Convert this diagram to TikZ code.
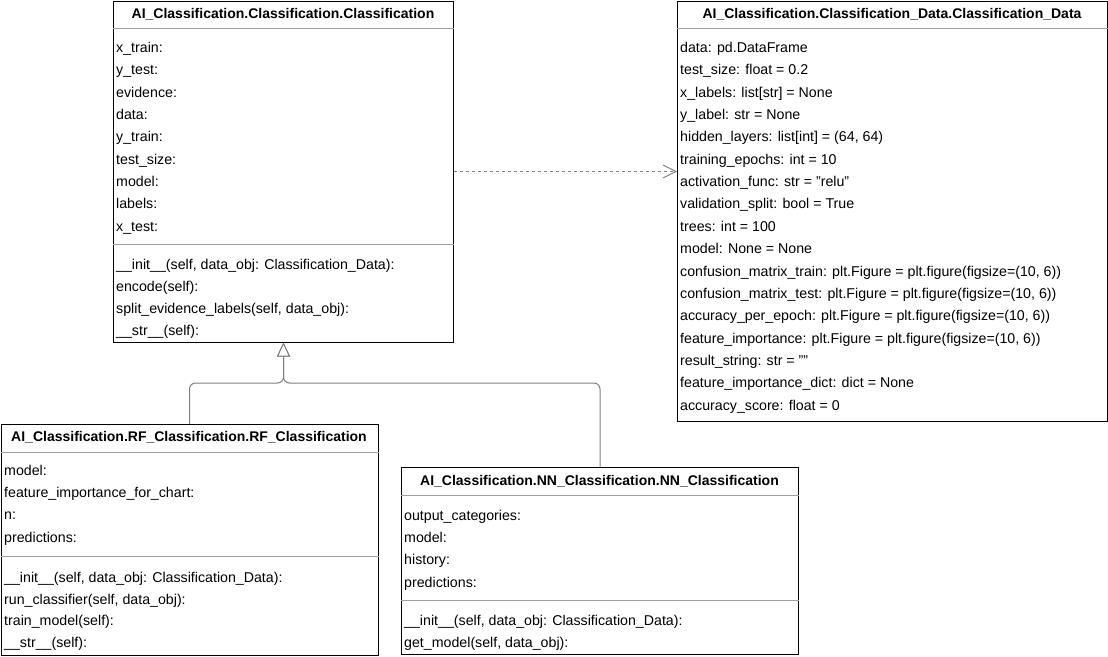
\documentclass[tikz,border=0pt]{standalone}
\usepackage{fontspec}
\setmainfont[Ligatures=NoCommon]{Liberation Sans}
\usetikzlibrary{arrows.meta}
\definecolor{sepgray}{HTML}{A0A0A0}
\definecolor{linegray}{HTML}{808080}
\newcommand{\dq}{\char34\relax}
\tikzset{
  umlbox/.style={draw=black, line width=1pt, rectangle, anchor=north west, inner sep=0pt, fill=white},
  row/.style={anchor=base west, inner sep=0pt, font=\fontsize{14.2}{16}\selectfont, text=black, yshift=-5.3pt},
  head/.style={anchor=base, inner sep=0pt, font=\fontsize{14}{16}\selectfont\bfseries, text=black, yshift=-5pt},
  sepline/.style={draw=sepgray, line width=1pt},
  conn/.style={draw=linegray, line width=1pt},
}
\begin{document}
\begin{tikzpicture}[x=1pt,y=-1pt]
\useasboundingbox (0,0) rectangle (1108,656);

% Classification
\node[umlbox, minimum width=340pt, minimum height=341pt] (cls) at (113,0.5) {};
\node[head] (clsh) at (283,13.5) {AI\_Classification.Classification.Classification};
\draw[sepline] (cls.west |- 0,28) coordinate (clsha) -- (cls.east |- 0,28) coordinate (clshb);
\foreach \t [count=\i] in {x\_train:, y\_test:, evidence:, data:, y\_train:, test\_size:, model:, labels:, x\_test:}
  \node[row] (clsa\i) at (116, {47+22.375*(\i-1)}) {\t};
\draw[sepline] (cls.west |- 0,244) coordinate (clssa) -- (cls.east |- 0,244) coordinate (clssb);
\foreach \t [count=\i] in {{\_\_init\_\_(self, data\_obj: Classification\_Data):}, {encode(self):}, {split\_evidence\_labels(self, data\_obj):}, {\_\_str\_\_(self):}}
  \node[row] (clsm\i) at (116, {264+22*(\i-1)}) {\t};

% Classification_Data
\node[umlbox, minimum width=430pt, minimum height=420pt] (data) at (677,1) {};
\node[head] (datah) at (892,13.5) {AI\_Classification.Classification\_Data.Classification\_Data};
\draw[sepline] (data.west |- 0,28) coordinate (dataha) -- (data.east |- 0,28) coordinate (datahb);
\foreach \t [count=\i] in {{data: pd.DataFrame}, {test\_size: float = 0.2}, {x\_labels: list[str] = None}, {y\_label: str = None}, {hidden\_layers: list[int] = (64, 64)}, {training\_epochs: int = 10}, {activation\_func: str = \dq relu\dq}, {validation\_split: bool = True}, {trees: int = 100}, {model: None = None}, {confusion\_matrix\_train: plt.Figure = plt.figure(figsize=(10, 6))}, {confusion\_matrix\_test: plt.Figure = plt.figure(figsize=(10, 6))}, {accuracy\_per\_epoch: plt.Figure = plt.figure(figsize=(10, 6))}, {feature\_importance: plt.Figure = plt.figure(figsize=(10, 6))}, {result\_string: str = \dq\dq}, {feature\_importance\_dict: dict = None}, {accuracy\_score: float = 0}}
  \node[row] (dataa\i) at (680, {47+22.375*(\i-1)}) {\t};

% RF_Classification
\node[umlbox, minimum width=377pt, minimum height=231pt] (rf) at (0.5,424) {};
\node[head] (rfh) at (189,436.5) {AI\_Classification.RF\_Classification.RF\_Classification};
\draw[sepline] (rf.west |- 0,452) coordinate (rfha) -- (rf.east |- 0,452) coordinate (rfhb);
\foreach \t [count=\i] in {model:, feature\_importance\_for\_chart:, n:, predictions:}
  \node[row] (rfa\i) at (4, {470+22.33*(\i-1)}) {\t};
\draw[sepline] (rf.west |- 0,556) coordinate (rfsa) -- (rf.east |- 0,556) coordinate (rfsb);
\foreach \t [count=\i] in {{\_\_init\_\_(self, data\_obj: Classification\_Data):}, {run\_classifier(self, data\_obj):}, {train\_model(self):}, {\_\_str\_\_(self):}}
  \node[row] (rfm\i) at (4, {577+21.7*(\i-1)}) {\t};

% NN_Classification
\node[umlbox, minimum width=397pt, minimum height=187pt] (nn) at (401,467) {};
\node[head] (nnh) at (599.5,480) {AI\_Classification.NN\_Classification.NN\_Classification};
\draw[sepline] (nn.west |- 0,495.5) coordinate (nnha) -- (nn.east |- 0,495.5) coordinate (nnhb);
\foreach \t [count=\i] in {output\_categories:, model:, history:, predictions:}
  \node[row] (nna\i) at (404, {515+22.33*(\i-1)}) {\t};
\draw[sepline] (nn.west |- 0,600) coordinate (nnsa) -- (nn.east |- 0,600) coordinate (nnsb);
\foreach \t [count=\i] in {{\_\_init\_\_(self, data\_obj: Classification\_Data):}, {get\_model(self, data\_obj):}}
  \node[row] (nnm\i) at (404, {620+22*(\i-1)}) {\t};

% Dependency
\draw[conn, dash pattern=on 3pt off 3pt, -{Straight Barb[length=13pt,width=13pt,line width=1pt]}] (cls.east) -- (cls.east -| data.west);

% Inheritance
\coordinate (j) at (cls.south |- 0,383);
\draw[conn, rounded corners=6pt, -{Triangle[open,length=14pt,width=13pt,fill=white]}] (rf.north) |- (j) -- (cls.south);
\draw[conn, rounded corners=6pt, -{Triangle[open,length=14pt,width=13pt,fill=white]}] (nn.north) |- (j) -- (cls.south);
\end{tikzpicture}
\end{document}
